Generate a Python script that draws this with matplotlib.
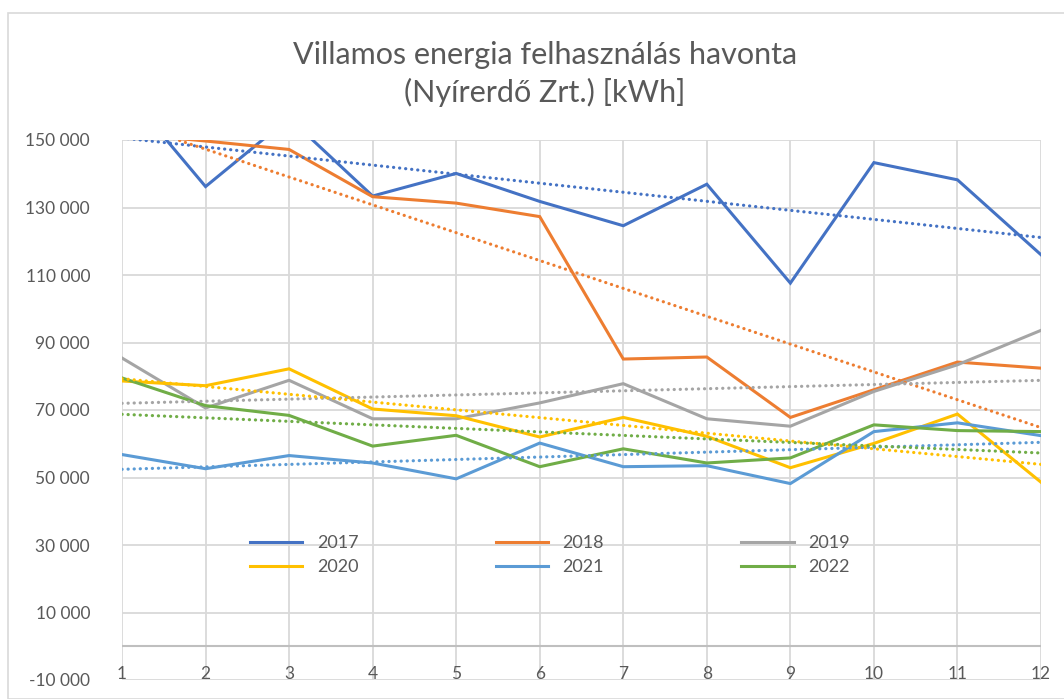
import numpy as np
import matplotlib
matplotlib.use("Agg")
import matplotlib.pyplot as plt
from matplotlib.ticker import FuncFormatter
from matplotlib.patches import Rectangle

months = list(range(1, 13))
years = ["2017", "2018", "2019", "2020", "2021", "2022"]
colors = ["#4472C4", "#ED7D31", "#A5A5A5", "#FFC000", "#5B9BD5", "#70AD47"]

y2017 = [165700, 136200, 156500, 133400, 140100, 131800, 124600, 136900, 107600, 143300, 138200, 116000]
y2018 = [152000, 149700, 147200, 133200, 131300, 127300, 85100, 85700, 67800, 76000, 84200, 82400]
y2019 = [85400, 70600, 78800, 67400, 67400, 72100, 77800, 67400, 65200, 75500, 83400, 93600]
y2020 = [78600, 77200, 82200, 70300, 68300, 62000, 67800, 62200, 52900, 60100, 68800, 48600]
y2021 = [56800, 52600, 56500, 54300, 49600, 60200, 53200, 53500, 48200, 63600, 66200, 62400]
y2022 = [79500, 71300, 68400, 59300, 62500, 53200, 58500, 54300, 55800, 65600, 63900, 63600]
series = [y2017, y2018, y2019, y2020, y2021, y2022]

plt.rcParams['font.family'] = ['Lato', 'DejaVu Sans']
txt = "#595959"
grid_c = "#D9D9D9"

fig = plt.figure(figsize=(10.64, 6.99), dpi=100)
fig.patches.append(Rectangle((8 / 1064, 0), 1.2, 1 - 13 / 699, transform=fig.transFigure,
                             fill=False, edgecolor="#D9D9D9", lw=1.2))
ax = fig.add_axes([122 / 1064, 1 - 680 / 699, (1041 - 122) / 1064, (680 - 140) / 699])

handles = []
x = np.array(months)
for name, vals, c in zip(years, series, colors):
    h, = ax.plot(months, vals, color=c, lw=2.2, label=name, zorder=3,
                 solid_joinstyle="miter")
    handles.append(h)
    # linear trendline, as in the original
    k, b = np.polyfit(x, vals, 1)
    ax.plot(x, k * x + b, color=c, lw=2.3, ls=(0, (0.05, 1.85)),
            dash_capstyle="round", zorder=4)

ax.set_xlim(1, 12)
ax.set_ylim(-10000, 150000)
ax.set_xticks(months)
ax.set_yticks(range(-10000, 150001, 20000))
ax.yaxis.set_major_formatter(FuncFormatter(lambda v, p: f"{int(v):,}".replace(",", " ")))
ax.grid(True, color=grid_c, lw=1.3)
ax.set_axisbelow(True)
ax.axhline(0, color="#BFBFBF", lw=1.5, zorder=2)
for s in ax.spines.values():
    s.set_visible(False)
ax.tick_params(axis="both", length=0, labelsize=12.5, labelcolor=txt)
ax.tick_params(axis="x", pad=-10)
ax.tick_params(axis="y", pad=23)

order = [0, 3, 1, 4, 2, 5]
ax.legend([handles[i] for i in order], [years[i] for i in order], ncol=3,
          loc="upper left", bbox_to_anchor=(250 / 1064, 1 - 535 / 699),
          bbox_transform=fig.transFigure, frameon=False, fontsize=13,
          handlelength=2.9, handletextpad=0.8, columnspacing=7.6,
          labelspacing=0.45, borderpad=0, borderaxespad=0, labelcolor=txt)

fig.text(545 / 1064, 1 - 74 / 699, "Villamos energia felhasználás havonta\n(Nyírerdő Zrt.) [kWh]",
         ha="center", va="center", fontsize=22, color=txt, linespacing=1.4)

fig.savefig("out.png", dpi=100)
